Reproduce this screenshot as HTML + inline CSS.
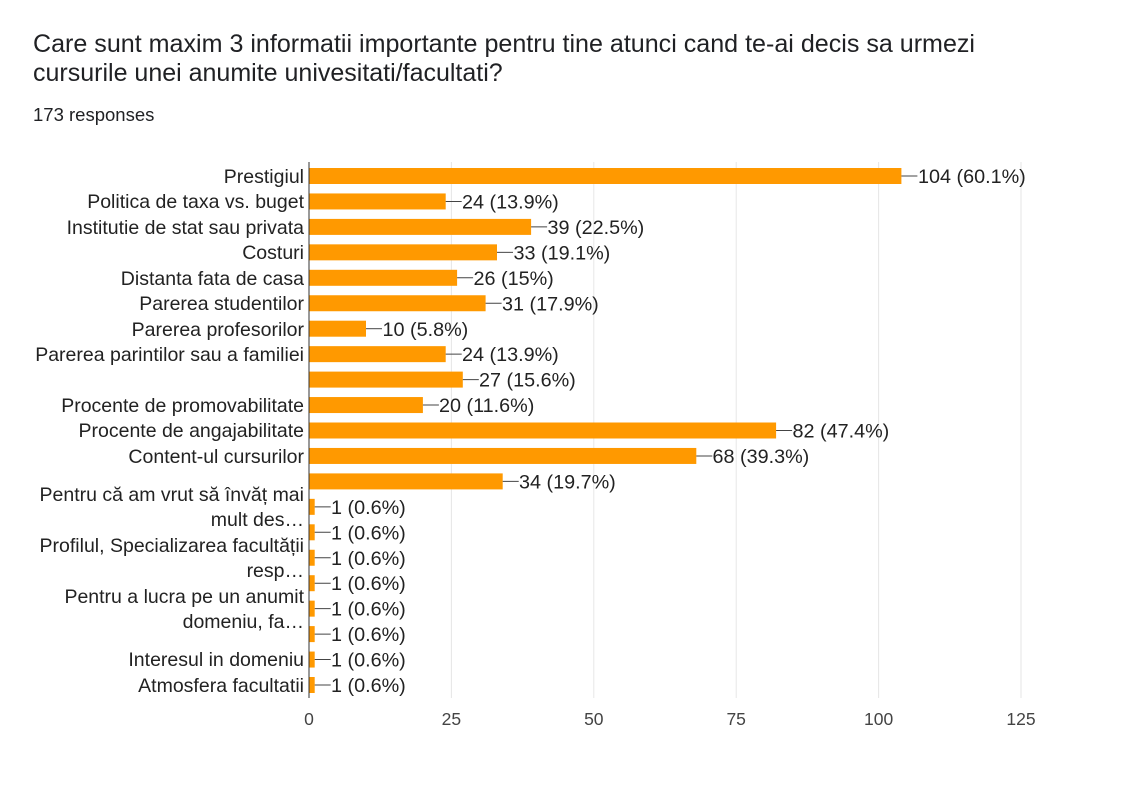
<!DOCTYPE html>
<html><head><meta charset="utf-8"><style>
body{margin:0;background:#fff;width:1135px;height:785px;overflow:hidden;font-family:"Liberation Sans",Arial,sans-serif}
</style></head><body>
<svg width="1135" height="785" xmlns="http://www.w3.org/2000/svg" font-family="Liberation Sans, Arial, sans-serif">
<text x="33" y="52" font-size="25" fill="#202124" textLength="942" lengthAdjust="spacingAndGlyphs">Care sunt maxim 3 informatii importante pentru tine atunci cand te-ai decis sa urmezi</text>
<text x="33" y="81" font-size="25" fill="#202124">cursurile unei anumite univesitati/facultati?</text>
<text x="33" y="121" font-size="18.5" fill="#202124">173 responses</text>
<g stroke="#e6e6e6" stroke-width="1">
<line x1="451.4" y1="162" x2="451.4" y2="698"/><line x1="593.8" y1="162" x2="593.8" y2="698"/>
<line x1="736.2" y1="162" x2="736.2" y2="698"/><line x1="878.6" y1="162" x2="878.6" y2="698"/>
<line x1="1021" y1="162" x2="1021" y2="698"/>
</g>
<g fill="#ff9900">
<rect x="309" y="168" width="592.4" height="16"/>
<rect x="309" y="193.45" width="136.7" height="16"/>
<rect x="309" y="218.9" width="222.1" height="16"/>
<rect x="309" y="244.35" width="188" height="16"/>
<rect x="309" y="269.8" width="148.1" height="16"/>
<rect x="309" y="295.25" width="176.6" height="16"/>
<rect x="309" y="320.7" width="57" height="16"/>
<rect x="309" y="346.15" width="136.7" height="16"/>
<rect x="309" y="371.6" width="153.8" height="16"/>
<rect x="309" y="397.05" width="113.9" height="16"/>
<rect x="309" y="422.5" width="467.1" height="16"/>
<rect x="309" y="447.95" width="387.3" height="16"/>
<rect x="309" y="473.4" width="193.7" height="16"/>
<rect x="309" y="498.85" width="5.7" height="16"/>
<rect x="309" y="524.3" width="5.7" height="16"/>
<rect x="309" y="549.75" width="5.7" height="16"/>
<rect x="309" y="575.2" width="5.7" height="16"/>
<rect x="309" y="600.65" width="5.7" height="16"/>
<rect x="309" y="626.1" width="5.7" height="16"/>
<rect x="309" y="651.55" width="5.7" height="16"/>
<rect x="309" y="677" width="5.7" height="16"/>
</g>
<g stroke="#444" stroke-width="1">
<line x1="901.4" y1="176" x2="917.4" y2="176"/>
<line x1="445.7" y1="201.45" x2="461.7" y2="201.45"/>
<line x1="531.1" y1="226.9" x2="547.1" y2="226.9"/>
<line x1="497" y1="252.35" x2="513" y2="252.35"/>
<line x1="457.1" y1="277.8" x2="473.1" y2="277.8"/>
<line x1="485.6" y1="303.25" x2="501.6" y2="303.25"/>
<line x1="366" y1="328.7" x2="382" y2="328.7"/>
<line x1="445.7" y1="354.15" x2="461.7" y2="354.15"/>
<line x1="462.8" y1="379.6" x2="478.8" y2="379.6"/>
<line x1="422.9" y1="405.05" x2="438.9" y2="405.05"/>
<line x1="776.1" y1="430.5" x2="792.1" y2="430.5"/>
<line x1="696.3" y1="455.95" x2="712.3" y2="455.95"/>
<line x1="502.7" y1="481.4" x2="518.7" y2="481.4"/>
<line x1="314.7" y1="506.85" x2="330.7" y2="506.85"/>
<line x1="314.7" y1="532.3" x2="330.7" y2="532.3"/>
<line x1="314.7" y1="557.75" x2="330.7" y2="557.75"/>
<line x1="314.7" y1="583.2" x2="330.7" y2="583.2"/>
<line x1="314.7" y1="608.65" x2="330.7" y2="608.65"/>
<line x1="314.7" y1="634.1" x2="330.7" y2="634.1"/>
<line x1="314.7" y1="659.55" x2="330.7" y2="659.55"/>
<line x1="314.7" y1="685" x2="330.7" y2="685"/>
</g>
<g font-size="19.8" fill="#222">
<text x="918" y="183">104 (60.1%)</text>
<text x="462" y="208.5">24 (13.9%)</text>
<text x="547.5" y="234">39 (22.5%)</text>
<text x="513.5" y="259.5">33 (19.1%)</text>
<text x="473.5" y="285">26 (15%)</text>
<text x="502" y="310.5">31 (17.9%)</text>
<text x="382.5" y="336">10 (5.8%)</text>
<text x="462" y="361">24 (13.9%)</text>
<text x="479" y="386.5">27 (15.6%)</text>
<text x="439" y="412">20 (11.6%)</text>
<text x="792.5" y="437.5">82 (47.4%)</text>
<text x="712.5" y="463">68 (39.3%)</text>
<text x="519" y="488.5">34 (19.7%)</text>
<text x="331" y="514">1 (0.6%)</text>
<text x="331" y="539.5">1 (0.6%)</text>
<text x="331" y="565">1 (0.6%)</text>
<text x="331" y="590">1 (0.6%)</text>
<text x="331" y="615.5">1 (0.6%)</text>
<text x="331" y="641">1 (0.6%)</text>
<text x="331" y="666.5">1 (0.6%)</text>
<text x="331" y="692">1 (0.6%)</text>
</g>
<line x1="309" y1="162" x2="309" y2="698" stroke="#333" stroke-width="1"/>
<g font-size="17.5" fill="#444" text-anchor="middle">
<text x="309" y="725">0</text><text x="451.4" y="725">25</text><text x="593.8" y="725">50</text><text x="736.2" y="725">75</text><text x="878.6" y="725">100</text><text x="1021" y="725">125</text>
</g>
<g font-size="19.5" fill="#222" text-anchor="end">
<text x="304" y="183">Prestigiul</text>
<text x="304" y="208">Politica de taxa vs. buget</text>
<text x="304" y="234">Institutie de stat sau privata</text>
<text x="304" y="259">Costuri</text>
<text x="304" y="285">Distanta fata de casa</text>
<text x="304" y="310">Parerea studentilor</text>
<text x="304" y="336">Parerea profesorilor</text>
<text x="304" y="361">Parerea parintilor sau a familiei</text>
<text x="304" y="412">Procente de promovabilitate</text>
<text x="304" y="437">Procente de angajabilitate</text>
<text x="304" y="463">Content-ul cursurilor</text>
<text x="304" y="501">Pentru că am vrut să învăț mai</text>
<text x="304" y="526">mult des…</text>
<text x="304" y="552">Profilul, Specializarea facultății</text>
<text x="304" y="577">resp…</text>
<text x="304" y="603">Pentru a lucra pe un anumit</text>
<text x="304" y="628">domeniu, fa…</text>
<text x="304" y="666">Interesul in domeniu</text>
<text x="304" y="692">Atmosfera facultatii</text>
</g>
</svg>
</body></html>
